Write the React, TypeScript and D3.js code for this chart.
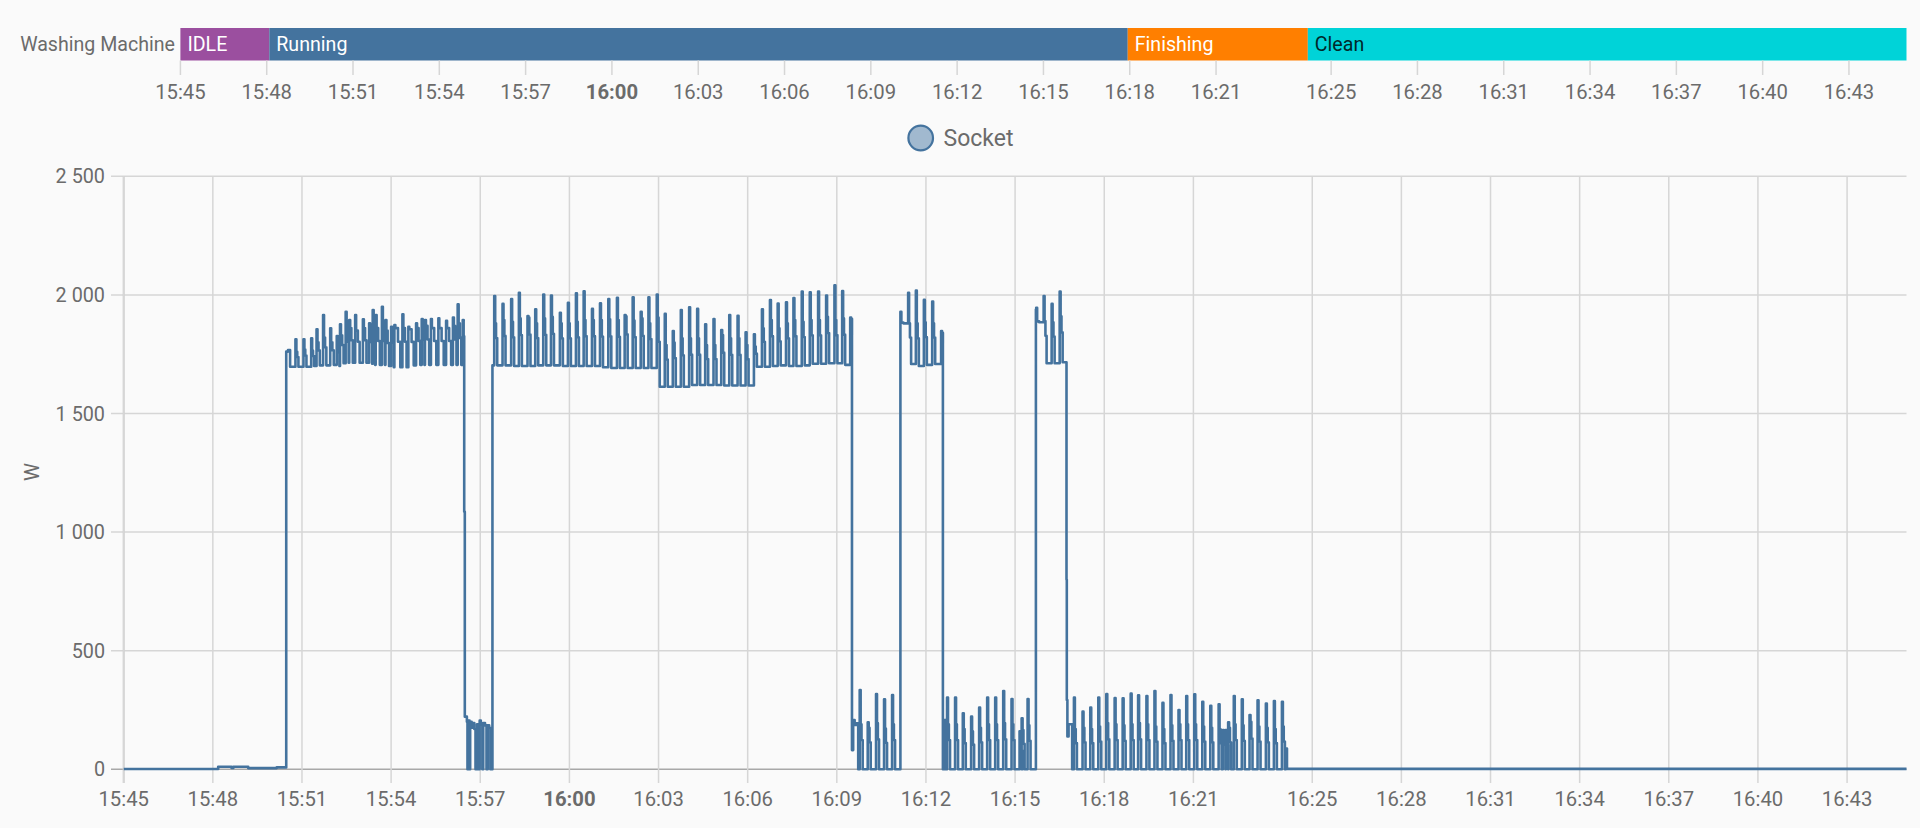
import React from "react";
import * as d3 from "d3";

const W = 1920, H = 828;
const tickMinutes = [0,3,6,9,12,15,18,21,24,27,30,33,36,40,43,46,49,52,55,58];
const tickLabels = ["15:45","15:48","15:51","15:54","15:57","16:00","16:03","16:06","16:09","16:12","16:15","16:18","16:21","16:25","16:28","16:31","16:34","16:37","16:40","16:43"];
const yTicks = [0,500,1000,1500,2000,2500];
const yLabels = ["0","500","1 000","1 500","2 000","2 500"];

const stateNames = ["IDLE","Running","Finishing","Clean"];
const stateStarts = [0,3.09,32.93,39.19];
const stateEnds = [3.09,32.93,39.19,60];
const stateFills = ["#9b4f9f","#44739e","#ff7f00","#00d3d8"];
const stateInk = ["#fff","#fff","#fff","#00282a"];

// Block 15:50 - 15:56
const b1Minutes = [5.80,6.07,6.33,6.51,6.73,6.97,7.19,7.30,7.49,7.61,7.81,8.07,8.28,8.40,8.50,8.71,8.83,9.02,9.13,9.40,9.60,9.86,10.05,10.16,10.36,10.61,10.87,11.10,11.26,11.43];
const b1Peaks = [1813,1813,1817,1855,1915,1859,1827,1876,1929,1894,1915,1897,1880,1936,1915,1950,1894,1866,1873,1918,1866,1880,1898,1894,1898,1901,1891,1905,1960,1894];
const b1Shoulders = [1760,1770,1765,1800,1820,1800,1790,1830,1850,1860,1850,1860,1850,1860,1860,1860,1850,1855,1860,1860,1855,1860,1870,1870,1860,1860,1860,1870,1880,1890];
const b1Lengths = [0.08,0.08,0.08,0.09,0.09,0.1,0.07,0.1,0.08,0.1,0.13,0.1,0.08,0.06,0.12,0.08,0.1,0.07,0.18,0.12,0.16,0.12,0.07,0.12,0.16,0.16,0.15,0.1,0.1,0.03];
const b1Bases = [1697,1697,1700,1703,1703,1705,1700,1712,1714,1714,1714,1714,1710,1705,1705,1705,1700,1695,1695,1695,1703,1705,1705,1705,1705,1705,1705,1705,1705,1705];

// Block 15:57 - 16:09
const b2Minutes = [12.49,12.77,13.06,13.32,13.61,13.87,14.14,14.40,14.70,14.97,15.24,15.50,15.78,16.05,16.33,16.62,16.88,17.15,17.42,17.68,17.96,18.23,18.50,18.77,19.05,19.32,19.59,19.87,20.13,20.40,20.68,20.95,21.23,21.50,21.77,22.03,22.31,22.56,22.84,23.11,23.39,23.66,23.94,24.20,24.47];
const b2Peaks = [1995,1962,1983,2009,1911,1939,2002,1997,1925,1967,2007,2015,1941,1965,1983,1988,1915,1990,1929,1990,2002,1920,1848,1936,1948,1941,1876,1898,1852,1915,1912,1842,1834,1939,1978,1964,1969,1987,2014,2011,2014,1997,2040,2016,1904];
const b2Shoulders = [1880,1894,1887,1901,1905,1880,1901,1908,1880,1880,1887,1894,1894,1894,1897,1894,1910,1892,1901,1880,1905,1789,1799,1817,1817,1817,1789,1789,1831,1817,1817,1789,1782,1859,1894,1859,1880,1894,1887,1894,1894,1908,1894,1901,1899];
const b2Bases = [1703,1703,1700,1700,1700,1703,1703,1703,1700,1700,1700,1700,1700,1695,1692,1692,1692,1692,1692,1692,1613,1613,1613,1613,1620,1620,1620,1620,1618,1618,1618,1618,1697,1697,1700,1703,1700,1700,1703,1710,1710,1712,1712,1705,1705];

// Two short high blocks
const b3Minutes = [26.16,26.42,26.68,26.95,27.23,27.53];
const b3Peaks = [1929,2009,2018,1979,1972,1848];
const b3Shoulders = [1885,1880,1880,1885,1880,1840];
const b3Bases = [1880,1709,1700,1705,1709,1712];
const b4Minutes = [30.73,30.98,31.25,31.52];
const b4Peaks = [1946,1995,1962,2014];
const b4Shoulders = [1890,1890,1885,1910];
const b4Bases = [1885,1712,1712,1716];

// Low pulses
const l1Minutes = [24.79,25.06,25.34,25.61,25.88];
const l1Peaks = [334,198,317,295,313];
const l1Shoulders = [190,175,195,172,190];
const l2Minutes = [27.73,28.00,28.26,28.54,28.81,29.08,29.35,29.62,29.90,30.17,30.24,30.44];
const l2Peaks = [303,303,236,222,260,303,303,330,296,160,215,296];
const l2Shoulders = [190,190,170,160,175,190,190,195,190,120,165,185];
const l3Minutes = [32.00,32.29,32.55,32.82,33.09,33.37,33.64,33.91,34.16,34.44,34.71,34.98,35.25,35.52,35.78,36.05,36.32,36.59,36.87,37.01,37.10,37.19,37.38,37.65,37.91,38.18,38.46,38.73,39.00];
const l3Peaks = [302,243,260,303,317,300,299,319,312,309,330,280,313,250,309,316,285,268,274,166,166,198,309,295,229,291,277,288,285];
const l3Shoulders = [170,175,170,180,195,190,185,190,195,190,180,170,185,190,190,190,180,175,170,160,160,175,190,185,200,180,175,170,180];

// Steps that do not follow the pulse pattern
const stepsIdle: [number, number][] = [[0,1],[3.18,11],[3.63,6],[3.69,11],[4.19,5],[5.15,8],[5.47,1761],[5.53,1768],[5.6,1697]];
const stepsDrop1: [number, number][] = [[11.46,1086],[11.48,222],[11.55,200],[11.57,0],[11.60,205],[11.64,0],[11.66,200],[11.71,175],[11.75,195],[11.80,170],[11.84,0],[11.89,190],[11.93,0],[11.98,205],[12.02,190],[12.07,0],[12.10,195],[12.16,185],[12.21,0],[12.25,185],[12.30,175],[12.34,0],[12.41,1703]];
const stepsDrop2: [number, number][] = [[24.51,81],[24.55,208],[24.60,187],[24.66,194],[24.72,0]];
const stepRise2: [number, number][] = [[26.14,1929]];
const stepsDrop3: [number, number][] = [[27.57,0],[27.58,208],[27.61,0],[27.63,208],[27.66,0]];
const stepRise3: [number, number][] = [[30.70,1940]];
const stepsDrop4: [number, number][] = [[31.73,800],[31.74,292],[31.76,138],[31.80,190],[31.92,0]];
const stepsEnd: [number, number][] = [[39.11,88],[39.15,2],[60,2]];
const stepRise1: [number, number][] = [[26.13,0]];

type P = [number, number];
function pulses(ms: number[], ps: number[], ss: number[], ls: number[] | number, bs: number[] | number): P[] {
  const out: P[] = [];
  ms.forEach((m, i) => {
    const len = typeof ls === "number" ? ls : ls[i];
    const base = typeof bs === "number" ? bs : bs[i];
    out.push([m - 0.02, ps[i]], [m + 0.012, ss[i]]);
    out.push([m + 0.012 + (len - 0.032) * 0.6, ss[i] - (ss[i] - base) * 0.35], [m + len, base]);
  });
  return out;
}

const PULSE_LEN = 0.08;
const series: P[] = [
  ...stepsIdle,
  ...pulses(b1Minutes, b1Peaks, b1Shoulders, b1Lengths, b1Bases),
  ...stepsDrop1,
  ...pulses(b2Minutes, b2Peaks, b2Shoulders, PULSE_LEN, b2Bases).slice(0, -1),
  ...stepsDrop2,
  ...pulses(l1Minutes, l1Peaks, l1Shoulders, PULSE_LEN, 0),
  ...stepRise1,
  ...stepRise2,
  ...pulses(b3Minutes, b3Peaks, b3Shoulders, PULSE_LEN, b3Bases).slice(0, -1),
  ...stepsDrop3,
  ...pulses(l2Minutes, l2Peaks, l2Shoulders, PULSE_LEN, 0),
  ...stepRise3,
  ...pulses(b4Minutes, b4Peaks, b4Shoulders, PULSE_LEN, b4Bases),
  ...stepsDrop4,
  ...pulses(l3Minutes, l3Peaks, l3Shoulders, PULSE_LEN, 0),
  ...stepsEnd,
];

const FONT = "Roboto, sans-serif";
const INK = "#6b6b6b";
const GRID = "#d6d6d6";
const LINE = "#44739e";
const TICK_SIZE = 20.3;
const NAME_SIZE = 19.6;

export default function App() {
  const xTop = d3.scaleLinear().domain([0, 60]).range([180.4, 1906.5]);
  const x = d3.scaleLinear().domain([0, 60]).range([123.7, 1906.5]);
  const y = d3.scaleLinear().domain([0, 2500]).range([769.3, 176.3]);
  const path = d3.line<P>().x(d => x(d[0])).y(d => y(d[1])).curve(d3.curveStepAfter)(series) || "";
  return (
    <svg width={W} height={H} viewBox={`0 0 ${W} ${H}`} style={{ position: "absolute", left: 0, top: 0, display: "block" }} fontFamily={FONT}>
      <rect width={W} height={H} fill="#fafafa" />
      <text x={175} y={50.5} textAnchor="end" fontSize={NAME_SIZE} fill={INK}>Washing Machine</text>
      {stateNames.map((n, i) => (
        <g key={n}>
          <rect x={xTop(stateStarts[i])} y={28} width={xTop(stateEnds[i]) - xTop(stateStarts[i])} height={32.5} fill={stateFills[i]} />
          <text x={xTop(stateStarts[i]) + 7} y={50.5} fontSize={NAME_SIZE} fill={stateInk[i]}>{n}</text>
        </g>
      ))}
      {tickMinutes.map((m, i) => (
        <g key={m}>
          <line x1={xTop(m)} x2={xTop(m)} y1={60.5} y2={75} stroke={GRID} strokeWidth={1.5} />
          <text x={xTop(m)} y={98.5} textAnchor="middle" fontSize={TICK_SIZE} fill={INK} fontWeight={tickLabels[i] === "16:00" ? 700 : 400}>{tickLabels[i]}</text>
        </g>
      ))}
      <circle cx={920.7} cy={138} r={12.3} fill="#a1b9cf" stroke={LINE} strokeWidth={2.2} />
      <text x={943.5} y={146} fontSize={23} fill={INK}>Socket</text>

      {yTicks.map((v, i) => (
        <g key={v}>
          <line x1={111} x2={1906.5} y1={y(v)} y2={y(v)} stroke={v === 0 ? "#a8a8a8" : GRID} strokeWidth={1.5} />
          <text x={105} y={y(v) + 7} textAnchor="end" fontSize={19.8} fill={INK}>{yLabels[i]}</text>
        </g>
      ))}
      <line x1={123.7} x2={123.7} y1={176.3} y2={783} stroke="#cfcfcf" strokeWidth={2} />
      {tickMinutes.map((m, i) => (
        <g key={m}>
          <line x1={x(m)} x2={x(m)} y1={176.3} y2={783} stroke={GRID} strokeWidth={1.5} />
          <text x={x(m)} y={806} textAnchor="middle" fontSize={TICK_SIZE} fill={INK} fontWeight={tickLabels[i] === "16:00" ? 700 : 400}>{tickLabels[i]}</text>
        </g>
      ))}
      <text transform="translate(39,472) rotate(-90)" textAnchor="middle" fontSize={TICK_SIZE} fill={INK}>W</text>
      <path d={path} fill="none" stroke={LINE} strokeWidth={2.6} strokeLinejoin="round" />
    </svg>
  );
}
